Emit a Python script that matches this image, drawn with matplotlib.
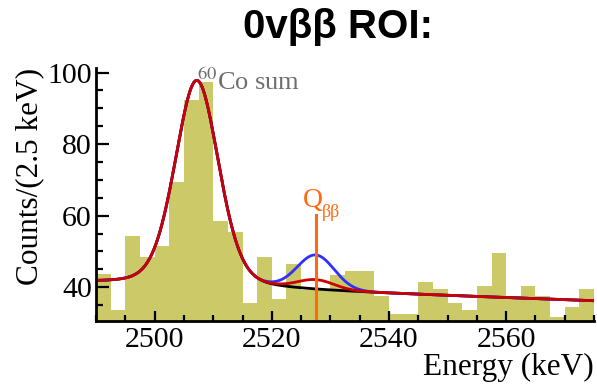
import numpy as np
import matplotlib
matplotlib.use("Agg")
import matplotlib.pyplot as plt
from matplotlib.ticker import MultipleLocator

plt.rcParams['font.family'] = ['Liberation Serif', 'DejaVu Serif']
plt.rcParams['mathtext.fontset'] = 'stix'

# histogram: 2.5 keV bins from 2490 to 2575 keV
bin_width = 2.5
bin_lo = 2490.0
counts = [43.6, 33.6, 54.4, 48.5, 51.5, 69.4, 92.4, 97.3, 58.5, 55.3,
          35.6, 48.4, 36.6, 46.5, 39.2, 39.2, 43.5, 44.5, 44.5, 37.5,
          32.6, 32.6, 41.5, 39.4, 35.5, 33.6, 40.4, 49.5, 37.5, 40.4,
          37.5, 31.7, 34.5, 39.4]
edges = bin_lo + bin_width * np.arange(len(counts) + 1)

# fit parameters: linear background + 60Co sum peak + 0vbb gaussian
bkg_const = 41.0
bkg_slope = -0.057
co_mu = 2507.2
co_amp = 57.8
co_hwhm = 4.4
co_eta = 0.25
q_bb = 2527.5
sig_width = 3.15
sig_fit = 2.6     # best fit signal
sig_limit = 9.5   # signal at the upper limit

def background(e):
    return bkg_const + bkg_slope * (e - bin_lo)

def co_peak(e):
    x = e - co_mu
    sigma = co_hwhm / np.sqrt(2 * np.log(2))
    gauss = np.exp(-0.5 * (x / sigma) ** 2)
    lorentz = 1.0 / (1.0 + (x / co_hwhm) ** 2)
    return co_amp * (co_eta * lorentz + (1 - co_eta) * gauss)

def signal(e, amp):
    return amp * np.exp(-0.5 * ((e - q_bb) / sig_width) ** 2)

e = np.linspace(2490, 2575, 800)
base = background(e) + co_peak(e)

fig = plt.figure(figsize=(5.97, 3.86), dpi=100)
ax = fig.add_axes([0.161, 0.168, 0.834, 0.656])

ax.stairs(counts, edges, fill=True, baseline=0, color='#cbc968', lw=0)
ax.plot(e, base, color='black', lw=2.0)
ax.plot(e, base + signal(e, sig_limit), color='#3030ff', lw=2.0)
ax.plot(e, base + signal(e, sig_fit), color='#cc0000', lw=2.0)

ax.plot([q_bb, q_bb], [0, 60.2], color='#ff6a10', lw=2.2)
ax.text(q_bb - 0.5, 62.5, 'Q', color='#ff6a10', fontsize=20,
        ha='center', va='baseline')
ax.text(q_bb + 1.0, 59.6, 'ββ', color='#ff6a10', fontsize=13,
        ha='left', va='baseline')

ax.text(2507.2, 93.6, r'$^{60}$Co sum', color='#6e6e6e', fontsize=19,
        ha='left', va='bottom')

ax.set_xlim(2490, 2575)
ax.set_ylim(30.5, 101.3)
ax.xaxis.set_major_locator(MultipleLocator(20))
ax.xaxis.set_minor_locator(MultipleLocator(5))
ax.yaxis.set_major_locator(MultipleLocator(20))
ax.yaxis.set_minor_locator(MultipleLocator(5))
ax.tick_params(which='both', direction='in', width=1.6, labelsize=21.5,
               top=False, right=False)
ax.tick_params(axis='y', which='major', length=9.5, pad=3)
ax.tick_params(axis='y', which='minor', length=5)
ax.tick_params(axis='x', which='major', length=7, pad=4)
ax.tick_params(axis='x', which='minor', length=4)
for side in ['top', 'right']:
    ax.spines[side].set_visible(False)
for side in ['left', 'bottom']:
    ax.spines[side].set_linewidth(2.0)

ax.set_ylabel('Counts/(2.5 keV)', fontsize=22.5, loc='top', labelpad=2)
ax.set_xlabel('Energy (keV)', fontsize=22.5, loc='right', labelpad=0)

fig.text(0.566, 0.93, '0vββ ROI:', fontsize=29, fontweight='bold',
         family='Liberation Sans', ha='center', va='center')

fig.savefig('out.png', dpi=100)
